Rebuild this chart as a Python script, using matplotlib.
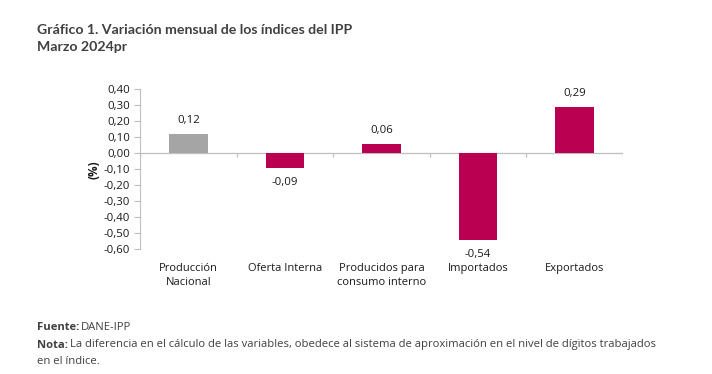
import matplotlib
matplotlib.use("Agg")
import matplotlib.pyplot as plt
from matplotlib.ticker import FixedLocator, FuncFormatter

categories = ["Producción\nNacional", "Oferta Interna", "Producidos para\nconsumo interno",
              "Importados", "Exportados"]
values = [0.12, -0.09, 0.06, -0.54, 0.29]
bar_colors = ["#A5A5A5", "#BA0050", "#BA0050", "#BA0050", "#BA0050"]
yticks = [0.40, 0.30, 0.20, 0.10, 0.00, -0.10, -0.20, -0.30, -0.40, -0.50, -0.60]

BODY = ['Open Sans', 'DejaVu Sans']
TITLE = ['Lato', 'DejaVu Sans']
plt.rcParams['font.family'] = BODY

W, H = 712, 374
fig = plt.figure(figsize=(W / 100, H / 100), dpi=100)
fig.patch.set_facecolor("white")

ax = fig.add_axes([140 / W, 1 - 249.3 / H, (623 - 140) / W, (249.3 - 89.3) / H])
x = list(range(len(values)))
ax.bar(x, values, width=0.40, color=bar_colors, zorder=2)
ax.set_xlim(-0.5, len(values) - 0.5)
ax.set_ylim(-0.60, 0.40)

for s in ["top", "right", "bottom"]:
    ax.spines[s].set_visible(False)
ax.spines["left"].set_color("#BFBFBF")
ax.spines["left"].set_linewidth(0.8)
ax.axhline(0, color="#BFBFBF", lw=0.9, zorder=1)
bounds = [i - 0.5 for i in range(len(values) + 1)]
ax.vlines(bounds, -0.025, 0, color="#BFBFBF", lw=0.9, zorder=1)

ax.yaxis.set_major_locator(FixedLocator(yticks))
ax.yaxis.set_major_formatter(FuncFormatter(lambda v, p: f"{v:.2f}".replace(".", ",").replace("-0,00", "0,00")))
ax.tick_params(axis="y", length=4, width=0.8, color="#BFBFBF", labelsize=8.2, pad=3, labelcolor="#1a1a1a")
ax.set_xticks(x)
ax.set_xticklabels(categories, linespacing=1.35)
ax.tick_params(axis="x", length=0, pad=10, labelsize=8.0, labelcolor="#1a1a1a")

ax.set_ylabel("(%)", fontsize=8.5, fontweight="bold", labelpad=2, color="#1a1a1a")

for xi, v in zip(x, values):
    lab = f"{v:.2f}".replace(".", ",")
    off = 9.8 if v >= 0 else -10.4
    ax.annotate(lab, (xi, v), xytext=(0, off), textcoords="offset points",
                ha="center", va="center", fontsize=8.2, color="#1a1a1a")

fig.text(37 / W, 1 - 30 / H, "Gráfico 1. Variación mensual de los índices del IPP",
         fontsize=10.2, fontweight="bold", color="#404040", va="center", ha="left", family=TITLE)
fig.text(37 / W, 1 - 47 / H, "Marzo 2024pr",
         fontsize=10.2, fontweight="bold", color="#404040", va="center", ha="left", family=TITLE)

fs = 8.1
fig.text(37 / W, 1 - 328 / H, "Fuente:", fontsize=fs, fontweight="bold", color="#404040", va="center", ha="left")
fig.text(81 / W, 1 - 328 / H, "DANE-IPP", fontsize=fs, color="#404040", va="center", ha="left")
fig.text(37 / W, 1 - 345 / H, "Nota:", fontsize=fs, fontweight="bold", color="#404040", va="center", ha="left")
fig.text(70 / W, 1 - 345 / H,
         "La diferencia en el cálculo de las variables, obedece al sistema de aproximación en el nivel de dígitos trabajados",
         fontsize=fs, color="#404040", va="center", ha="left")
fig.text(37 / W, 1 - 361 / H, "en el índice.", fontsize=fs, color="#404040", va="center", ha="left")

fig.savefig("out.png", dpi=100, facecolor="white")
